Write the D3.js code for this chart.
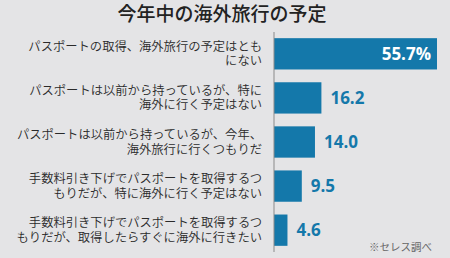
<!DOCTYPE html>
<html><head><meta charset="utf-8">
<script src="https://cdn.jsdelivr.net/npm/d3@7/dist/d3.min.js"></script>
<style>
html,body{margin:0;padding:0;background:#e4e4e6;}
svg{display:block;}
</style></head>
<body><svg id="c" width="450" height="258"></svg>
<script>
const title = "今年中の海外旅行の予定";
const categories = [
  ["パスポートの取得、海外旅行の予定はとも", "にない"],
  ["パスポートは以前から持っているが、特に", "海外に行く予定はない"],
  ["パスポートは以前から持っているが、今年、", "海外旅行に行くつもりだ"],
  ["手数料引き下げでパスポートを取得するつ", "もりだが、特に海外に行く予定はない"],
  ["手数料引き下げでパスポートを取得するつ", "もりだが、取得したらすぐに海外に行きたい"]
];
const values = [55.7, 16.2, 14.0, 9.5, 4.6];
const valueLabels = ["55.7%", "16.2", "14.0", "9.5", "4.6"];
const note = "※セレス調べ";

const svg = d3.select("#c");
const blue = "#1478aa";
const x0 = 274;
const x = d3.scaleLinear().domain([0, 55.7]).range([x0, 437]);
const y = d3.scaleBand().domain(d3.range(values.length)).range([32, 252]).paddingInner(0.29).paddingOuter(0.14);

svg.append("rect").attr("width",450).attr("height",258).attr("fill","#e4e4e6");

svg.append("text").attr("x",222).attr("y",21).attr("text-anchor","middle")
  .attr("font-family","'Noto Sans CJK JP'").attr("font-weight",500)
  .attr("font-size",19).attr("fill","#222").text(title);

const g = svg.append("g");
g.selectAll("rect.bar").data(values).join("rect").attr("class","bar")
  .attr("x", x0).attr("y",(d,i)=>y(i)).attr("width",d=>x(d)-x0).attr("height",y.bandwidth())
  .attr("fill",blue);

svg.append("line").attr("x1",x0).attr("x2",x0).attr("y1",32).attr("y2",252)
  .attr("stroke","#8a8a8a").attr("stroke-width",1);

// category labels
categories.forEach((lines,i)=>{
  const cy = y(i)+y.bandwidth()/2;
  lines.forEach((ln,k)=>{
    svg.append("text").attr("text-anchor","end")
      .attr("font-family","'Noto Sans CJK JP'").attr("font-weight",350)
      .attr("font-size",12.3).attr("fill","#2a2a2a")
      .attr("x",262).attr("y",cy + (k===0?-3:11.5)).text(ln);
  });
});

// value labels
values.forEach((v,i)=>{
  const cy = y(i)+y.bandwidth()/2;
  const inside = i===0;
  svg.append("text")
    .attr("x", inside ? x(v)-6 : x(v)+9)
    .attr("y", cy+6)
    .attr("text-anchor", inside ? "end" : "start")
    .attr("font-family","'Open Sans'").attr("font-weight",700).attr("font-size",17)
    .attr("fill", inside ? "#fff" : blue).text(valueLabels[i]);
});

svg.append("text").attr("x",432).attr("y",251).attr("text-anchor","end")
  .attr("font-family","'Noto Sans CJK JP'").attr("font-size",10.5).attr("fill","#666").text(note);
</script></body></html>
